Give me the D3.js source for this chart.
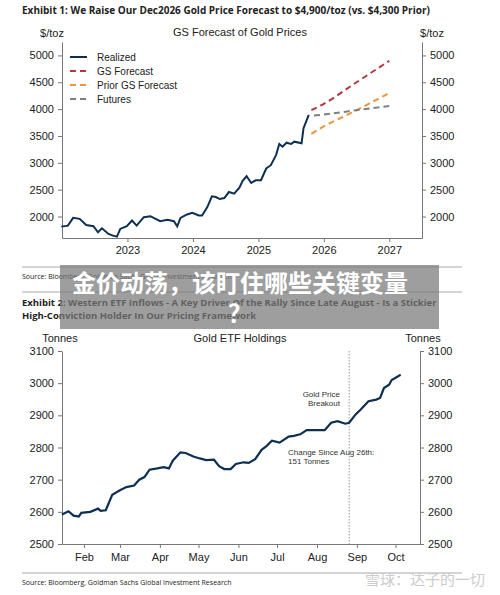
<!DOCTYPE html>
<html><head><meta charset="utf-8">
<script src="https://cdn.jsdelivr.net/npm/d3@7"></script>
<style>body{margin:0;background:#fff}svg{display:block}</style>
</head><body>
<script>
// ---------- Chart 1 data ----------
const realizedYears=[2021.99,2022.09,2022.17,2022.27,2022.37,2022.48,2022.55,2022.61,2022.71,2022.78,2022.84,2022.89,2022.99,2023.07,2023.14,2023.25,2023.35,2023.43,2023.50,2023.61,2023.71,2023.76,2023.81,2023.91,2023.99,2024.09,2024.14,2024.22,2024.29,2024.35,2024.41,2024.48,2024.55,2024.63,2024.71,2024.76,2024.82,2024.89,2024.96,2025.04,2025.12,2025.19,2025.27,2025.32,2025.37,2025.43,2025.50,2025.55,2025.66,2025.69,2025.74,2025.77];
const realizedPrice=[1812,1830,1975,1956,1843,1819,1706,1781,1675,1644,1625,1769,1819,1925,1831,1988,2006,1956,1913,1938,1913,1819,1975,2038,2069,2019,2019,2175,2375,2363,2325,2344,2456,2425,2538,2663,2750,2625,2675,2675,2894,2956,3144,3350,3300,3375,3350,3394,3363,3644,3800,3894];
const gsYears=[2025.81,2026.0,2026.5,2027.0];
const gsPrice=[3980,4100,4500,4900];
const priorYears=[2025.81,2026.0,2026.25,2026.5,2026.75,2027.0];
const priorPrice=[3540,3680,3830,3980,4140,4300];
const futYears=[2025.85,2026.0,2026.5,2027.0];
const futPrice=[3880,3900,3980,4060];
const yTicks1=[2000,2500,3000,3500,4000,4500,5000];
const xTicks1=[2023,2024,2025,2026,2027];
// ---------- Chart 2 data ----------
const etfDates=["01-15","01-20","01-24","01-28","01-30","02-06","02-12","02-14","02-18","02-23","03-01","03-06","03-12","03-16","03-20","03-24","03-30","04-04","04-08","04-11","04-17","04-21","04-27","05-02","05-07","05-13","05-17","05-21","05-26","05-30","06-05","06-09","06-14","06-19","06-23","06-27","07-03","07-10","07-14","07-19","07-24","07-30","08-07","08-12","08-17","08-23","08-26","08-31","09-04","09-10","09-16","09-19","09-22","09-26","09-28","10-05"];
const etfTonnes=[2592,2602,2588,2585,2597,2600,2610,2603,2605,2653,2667,2677,2682,2700,2708,2731,2735,2739,2735,2759,2785,2783,2772,2766,2761,2762,2742,2733,2733,2749,2754,2752,2764,2793,2805,2821,2815,2834,2836,2841,2854,2854,2854,2877,2882,2874,2877,2903,2918,2944,2949,2954,2985,2995,3010,3026];
const yTicks2=[2500,2600,2700,2800,2900,3000,3100];
const monthLabels=["Feb","Mar","Apr","May","Jun","Jul","Aug","Sep","Oct"];

const W=500,H=595,F="Liberation Sans, Arial, sans-serif",FB="Open Sans, sans-serif";
const svg=d3.select("body").append("svg").attr("width",W).attr("height",H);
function txt(x,y,s,o={}){return svg.append("text").attr("x",x).attr("y",y).text(s)
 .attr("font-family",o.f||F).attr("font-size",o.s||11).attr("fill",o.c||"#222")
 .attr("font-weight",o.w||"normal").attr("text-anchor",o.a||"start");}
function styleAxis(g){g.selectAll("path,line").attr("stroke","#777");g.selectAll("text").attr("font-family",F).attr("font-size",11).attr("fill","#222");}
const fd=d3.format("d");

// ===== Chart 1 =====
txt(22,14,"Exhibit 1: We Raise Our Dec2026 Gold Price Forecast to $4,900/toz (vs. $4,300 Prior)",{f:FB,s:10,w:"bold"});
txt(240,36,"GS Forecast of Gold Prices",{a:"middle"});
txt(52,37,"$/toz",{a:"middle"});txt(432,37,"$/toz",{a:"middle"});
const x1=d3.scaleLinear().domain([2022,2027.5]).range([62,422]);
const y1=d3.scaleLinear().domain([1600,5250]).range([238,42]);
styleAxis(svg.append("g").attr("transform","translate(62,0)").call(d3.axisLeft(y1).tickValues(yTicks1).tickFormat(fd).tickSize(4).tickPadding(4).tickSizeOuter(0)));
styleAxis(svg.append("g").attr("transform","translate(422,0)").call(d3.axisRight(y1).tickValues(yTicks1).tickFormat(fd).tickSize(4).tickPadding(4).tickSizeOuter(0)));
styleAxis(svg.append("g").attr("transform","translate(0,238)").call(d3.axisBottom(x1).tickValues(xTicks1).tickFormat(fd).tickSize(4).tickPadding(4).tickSizeOuter(0)));
const ln1=d3.line().x(d=>x1(d[0])).y(d=>y1(d[1]));
const ln1c=d3.line().x(d=>x1(d[0])).y(d=>y1(d[1])).curve(d3.curveMonotoneX);
svg.append("path").attr("d",ln1(d3.zip(realizedYears,realizedPrice))).attr("fill","none").attr("stroke","#0d2f52").attr("stroke-width",2);
svg.append("path").attr("d",ln1c(d3.zip(gsYears,gsPrice))).attr("fill","none").attr("stroke","#b23a3e").attr("stroke-width",2).attr("stroke-dasharray","6,4");
svg.append("path").attr("d",ln1c(d3.zip(priorYears,priorPrice))).attr("fill","none").attr("stroke","#ec9440").attr("stroke-width",2).attr("stroke-dasharray","6,4");
svg.append("path").attr("d",ln1c(d3.zip(futYears,futPrice))).attr("fill","none").attr("stroke","#7f7f86").attr("stroke-width",2).attr("stroke-dasharray","6,4");
[["Realized","#0d2f52",null],["GS Forecast","#b23a3e","6,4"],["Prior GS Forecast","#ec9440","6,4"],["Futures","#7f7f86","6,4"]].forEach((l,i)=>{
 const y=57+i*14;
 svg.append("line").attr("x1",70).attr("x2",87).attr("y1",y).attr("y2",y).attr("stroke",l[1]).attr("stroke-width",2).attr("stroke-dasharray",l[2]);
 txt(97,y+3.5,l[0],{s:10});
});
svg.append("line").attr("x1",22).attr("x2",462).attr("y1",267).attr("y2",267).attr("stroke","#aaa");
txt(22,279,"Source: Bloomberg, Goldman Sachs Global Investment Research",{f:FB,s:7});
svg.append("line").attr("x1",22).attr("x2",462).attr("y1",292).attr("y2",292).attr("stroke","#aaa");

// ===== Chart 2 =====
txt(22,306,"Exhibit 2: Western ETF Inflows - A Key Driver Of the Rally Since Late August - Is a Stickier",{f:FB,s:9.5,w:"bold"});
txt(22,319,"High-Conviction Holder In Our Pricing Framework",{f:FB,s:9.5,w:"bold"});
txt(240,342,"Gold ETF Holdings",{a:"middle"});
txt(60,342,"Tonnes",{a:"middle"});txt(423,342,"Tonnes",{a:"middle"});
const pd=d3.timeParse("%Y-%m-%d");
const x2=d3.scaleTime().domain([pd("2025-01-15"),pd("2025-10-20")]).range([62,420]);
const y2=d3.scaleLinear().domain([2500,3100]).range([544,351]);
styleAxis(svg.append("g").attr("transform","translate(62,0)").call(d3.axisLeft(y2).tickValues(yTicks2).tickFormat(fd).tickSize(4).tickPadding(4).tickSizeOuter(0)));
styleAxis(svg.append("g").attr("transform","translate(420,0)").call(d3.axisRight(y2).tickValues(yTicks2).tickFormat(fd).tickSize(4).tickPadding(4).tickSizeOuter(0)));
const months=monthLabels.map((m,i)=>pd(`2025-${String(i+2).padStart(2,"0")}-01`));
styleAxis(svg.append("g").attr("transform","translate(0,544)").call(d3.axisBottom(x2).tickValues(months).tickFormat((d,i)=>monthLabels[i]).tickSize(4).tickPadding(5).tickSizeOuter(0)));
const aug26=x2(pd("2025-08-26"));
svg.append("line").attr("x1",aug26).attr("x2",aug26).attr("y1",351).attr("y2",544).attr("stroke","#999").attr("stroke-dasharray","1.5,1.5");
svg.append("path").attr("d",d3.line().x(d=>x2(pd("2025-"+d[0]))).y(d=>y2(d[1]))(d3.zip(etfDates,etfTonnes)))
 .attr("fill","none").attr("stroke","#0d2f52").attr("stroke-width",2.2);
txt(340,397,"Gold Price",{s:8,a:"end",c:"#333"});txt(340,406,"Breakout",{s:8,a:"end",c:"#333"});
txt(288,455,"Change Since Aug 26th:",{s:8,c:"#333"});txt(288,464,"151 Tonnes",{s:8,c:"#333"});
svg.append("line").attr("x1",22).attr("x2",462).attr("y1",573).attr("y2",573).attr("stroke","#aaa");
txt(22,585,"Source: Bloomberg, Goldman Sachs Global Investment Research",{f:FB,s:7});

// ===== Overlay =====
svg.append("rect").attr("x",60).attr("y",265).attr("width",379).attr("height",64).attr("fill","rgba(120,120,120,0.72)");
txt(240,292,"金价动荡，该盯住哪些关键变量",{f:"Noto Sans CJK SC",s:24,w:"bold",c:"#fff",a:"middle"});
txt(240,322,"？",{f:"Noto Sans CJK SC",s:24,w:"bold",c:"#fff",a:"middle"});
txt(485,585,"雪球：达子的一切",{f:"Noto Sans CJK SC",s:15,c:"#ccc",a:"end"});
</script>
</body></html>
